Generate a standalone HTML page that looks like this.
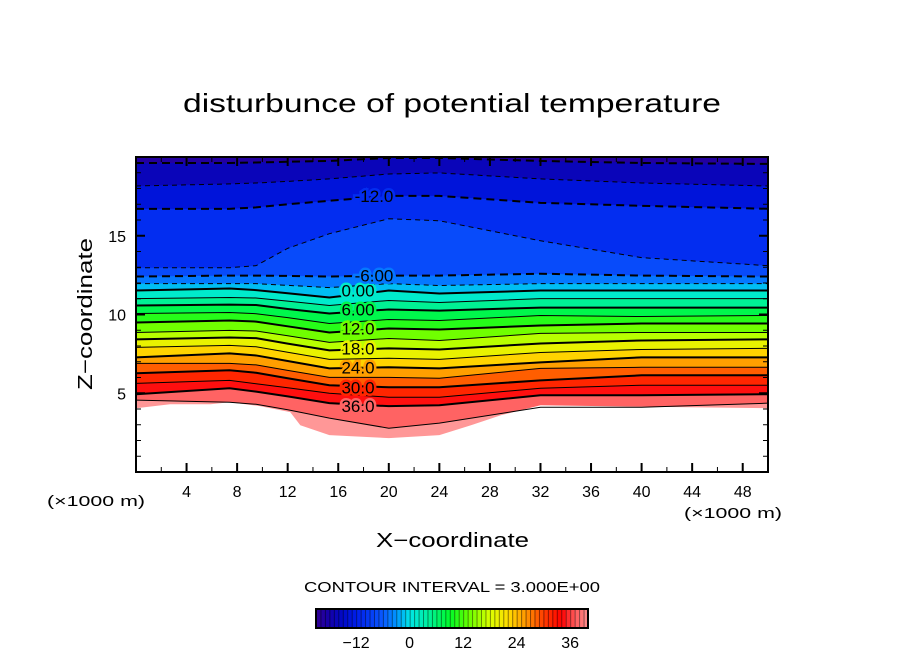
<!DOCTYPE html>
<html><head><meta charset="utf-8"><style>
html,body{margin:0;padding:0;background:#fff;}
svg{display:block;font-family:"Liberation Sans",sans-serif;}
</style></head><body>
<svg id="chart" width="904" height="654" viewBox="0 0 904 654" xmlns="http://www.w3.org/2000/svg">
<text x="183" y="112" font-size="26" textLength="538" lengthAdjust="spacingAndGlyphs">disturbunce of potential temperature</text>
<g id="plot"></g>
<text transform="translate(92,390) rotate(-90)" font-size="20" textLength="152" lengthAdjust="spacingAndGlyphs">Z−coordinate</text>
<text x="376" y="547" font-size="20" textLength="153" lengthAdjust="spacingAndGlyphs">X−coordinate</text>
<text x="47" y="506" font-size="15" textLength="98" lengthAdjust="spacingAndGlyphs">(×1000 m)</text>
<text x="684" y="518" font-size="15" textLength="98" lengthAdjust="spacingAndGlyphs">(×1000 m)</text>
<text x="304" y="592" font-size="15" textLength="296" lengthAdjust="spacingAndGlyphs">CONTOUR INTERVAL = 3.000E+00</text>
<g id="cbar"></g>
</svg>
<script>
const levels = [39,36,33,30,27,24,21,18,15,12,9,6,3,0,-3,-6,-9,-12,-15,-18];
const colX = [0,7.4,9.5,12,15.3,20,24,32,40,50];
// contour heights (km) for each column, ordered as levels
const col0  = [4.56,4.94,5.63,6.27,6.90,7.28,7.91,8.42,8.86,9.49,10.06,10.57,11.01,11.52,11.96,12.41,12.97,16.71,18.16,19.62];
const col1  = [4.43,5.32,5.82,6.46,6.90,7.53,8.04,8.54,8.99,9.62,10.13,10.63,11.08,11.65,11.96,12.47,12.97,16.71,18.29,19.62];
const col1b = [4.30,5.10,5.60,6.30,6.80,7.40,7.95,8.50,8.95,9.55,10.05,10.60,11.05,11.55,11.96,12.47,13.10,16.80,18.35,19.65];
const col1c = [3.95,4.80,5.35,5.95,6.45,7.05,7.60,8.15,8.65,9.25,9.80,10.35,10.85,11.35,11.85,12.45,14.20,17.00,18.45,19.70];
const col2  = [3.42,4.37,5.00,5.51,6.01,6.58,7.15,7.72,8.23,8.86,9.43,10.06,10.57,11.08,11.71,12.41,15.13,17.22,18.61,19.75];
const col3  = [2.78,4.18,4.75,5.38,6.01,6.65,7.22,7.85,8.48,9.11,9.68,10.32,10.89,11.52,11.96,12.47,16.08,17.53,18.92,19.94];
const col4  = [3.10,4.24,4.75,5.38,5.95,6.58,7.15,7.78,8.35,9.05,9.62,10.25,10.76,11.33,11.84,12.47,15.95,17.53,18.99,19.94];
const col5  = [4.11,4.87,5.32,5.82,6.58,6.96,7.59,8.16,8.80,9.30,9.94,10.44,11.01,11.52,11.96,12.59,14.68,17.09,18.61,19.75];
const col6  = [4.11,4.87,5.51,6.14,6.65,7.28,7.78,8.35,8.86,9.43,9.87,10.44,11.01,11.52,11.96,12.47,13.61,16.90,18.35,19.62];
const col7  = [4.37,4.94,5.51,6.14,6.65,7.28,7.85,8.42,8.86,9.43,9.94,10.44,11.01,11.52,11.96,12.41,13.10,16.71,18.16,19.56];
const terrainX = [0,2.7,5.9,7.4,9.8,12.2,13,15.3,20,24,26.5,28.9,32,36.7,50];
const terrainZ = [4.05,4.30,4.30,4.43,4.18,3.80,2.97,2.34,2.15,2.34,2.97,3.61,4.24,4.18,4.05];
const xTicks = [4,8,12,16,20,24,28,32,36,40,44,48];
const zTicks = [5,10,15];
const cbTicks = [-12,0,12,24,36];
const labelLevels = [36,30,24,18,12,6,0,-6,-12];
const labelText = ["36.0","30.0","24.0","18.0","12.0","6.00","0.00","-6.00","-12.0"];

const NS="http://www.w3.org/2000/svg";
const L=136,R=768,T=157,B=472;
const sx=x=>L+(x/50)*(R-L);
const sz=z=>B-(z/20)*(B-T);
const cols=[col0,col1,col1b,col1c,col2,col3,col4,col5,col6,col7];
const midCol=5;
function mk(tag,attrs,parent){const e=document.createElementNS(NS,tag);for(const k in attrs)e.setAttribute(k,attrs[k]);parent.appendChild(e);return e;}
const stops=[[-22,[60,0,140]],[-18,[20,0,170]],[-15,[0,10,200]],[-12,[0,30,235]],[-6,[10,90,255]],[-3,[0,150,255]],[0,[0,230,230]],[4,[0,240,160]],[9,[0,250,40]],[13,[100,255,0]],[18,[220,255,0]],[22,[255,220,0]],[26,[255,150,0]],[30,[255,60,0]],[34,[255,0,0]],[37,[255,90,90]],[41,[255,160,160]]];
function cmap(v){if(v<=stops[0][0])return `rgb(${stops[0][1]})`;for(let i=1;i<stops.length;i++){if(v<=stops[i][0]){const a=stops[i-1],b=stops[i],t=(v-a[0])/(b[0]-a[0]);return `rgb(${a[1].map((c,j)=>Math.round(c+(b[1][j]-c)*t)).join(',')})`;}}return `rgb(${stops[stops.length-1][1]})`;}
function linePts(k){return colX.map((x,i)=>[sx(x),sz(cols[i][k])]);}
const plot=document.getElementById('plot');
const bg=mk('rect',{x:L,y:T,width:R-L,height:B-T,fill:cmap(-19.5)},plot);


for(let k=levels.length-1;k>=0;k--){
  const pts=linePts(k);
  const d='M'+pts.map(p=>p.join(',')).join('L')+`L${R},${B}L${L},${B}Z`;
  const p=mk('path',{d:d,fill:cmap(levels[k]+1.5)},plot);
  
  
}
const tp=terrainX.map((x,i)=>sx(x)+','+sz(terrainZ[i])).join('L');
const terr=mk('path',{d:'M'+tp+`L${R},${B}L${L},${B}Z`,fill:'#fff'},plot);


levels.forEach((v,k)=>{
  const pts=linePts(k);
  const thick=(v%6===0);
  const a={points:pts.map(p=>p.join(',')).join(' '),fill:'none',stroke:'#000','stroke-width':thick?2:1};
  if(v<0)a['stroke-dasharray']=thick?'8,5':'5,4';
  const pl=mk('polyline',a,plot);
  
  
});
labelLevels.forEach((v,i)=>{
  const k=levels.indexOf(v);
  const z=cols[midCol][k];
  const cx=v<0?374:358;
  const t=mk('text',{x:cx,y:sz(z)+6,'font-size':17,'text-anchor':'middle',fill:'#000',stroke:cmap(v+1.5),'stroke-width':5,'paint-order':'stroke'},plot);
  t.textContent=labelText[i];
  
  
});
mk('rect',{x:L,y:T,width:R-L,height:B-T,fill:'none',stroke:'#000','stroke-width':2},plot);
for(let x=2;x<50;x+=2){const maj=x%4===0;const h=maj?9:5;
  mk('line',{x1:sx(x),x2:sx(x),y1:B,y2:B-h,stroke:'#000','stroke-width':maj?2:1},plot);
  mk('line',{x1:sx(x),x2:sx(x),y1:T,y2:T+h,stroke:'#000','stroke-width':maj?2:1},plot);}
for(let z=1;z<20;z++){const maj=z%5===0;const h=maj?9:5;
  mk('line',{x1:L,x2:L+h,y1:sz(z),y2:sz(z),stroke:'#000','stroke-width':maj?2:1},plot);
  mk('line',{x1:R,x2:R-h,y1:sz(z),y2:sz(z),stroke:'#000','stroke-width':maj?2:1},plot);}
xTicks.forEach(x=>{const t=mk('text',{x:sx(x),y:497,'font-size':16,'text-anchor':'middle'},plot);t.textContent=x;
  
  });
zTicks.forEach(z=>{const t=mk('text',{x:126,y:sz(z)+6,'font-size':16,'text-anchor':'end'},plot);t.textContent=z;
  
  });
const cb=document.getElementById('cbar');
const cL=316,cR=588,cT=609,cB=628,v0=-21,v1=40;
const cx=v=>cL+(v-v0)/(v1-v0)*(cR-cL);
for(let v=v0;v<v1;v++){
  const r=mk('rect',{x:cx(v),y:cT,width:cx(v+1)-cx(v)+0.3,height:cB-cT,fill:cmap(v+0.5)},cb);
  
  
  mk('line',{x1:cx(v)+0.5,x2:cx(v)+0.5,y1:cT,y2:cB,stroke:'rgba(0,0,0,0.45)','stroke-width':1},cb);
}
mk('rect',{x:cL,y:cT,width:cR-cL,height:cB-cT,fill:'none',stroke:'#000','stroke-width':2},cb);
cbTicks.forEach(v=>{const t=mk('text',{x:cx(v),y:648,'font-size':16,'text-anchor':'middle'},cb);t.textContent=v<0?'−'+(-v):v;
  
  });
</script>
</body></html>
